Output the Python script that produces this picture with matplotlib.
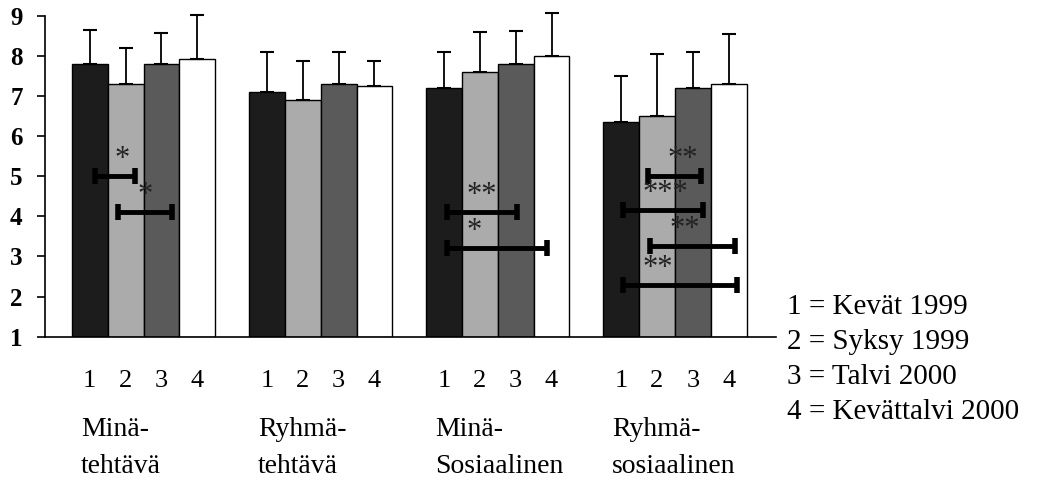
import matplotlib
matplotlib.use("Agg")
import matplotlib.pyplot as plt
import numpy as np

# mean scores per group (1 = Kevät 1999 ... 4 = Kevättalvi 2000)
groups = [("Minä-", "tehtävä"), ("Ryhmä-", "tehtävä"),
          ("Minä-", "Sosiaalinen"), ("Ryhmä-", "sosiaalinen")]
kevat99 = [7.8, 7.1, 7.2, 6.35]
syksy99 = [7.3, 6.9, 7.6, 6.5]
talvi00 = [7.8, 7.3, 7.8, 7.2]
kevattalvi00 = [7.93, 7.24, 8.0, 7.3]
# upper end of the error bars
err_top = [[8.65, 8.1, 8.1, 7.5],
           [8.2, 7.88, 8.6, 8.05],
           [8.58, 8.1, 8.63, 8.1],
           [9.03, 7.87, 9.08, 8.55]]
legend_lines = ["1 = Kevät 1999", "2 = Syksy 1999", "3 = Talvi 2000", "4 = Kevättalvi 2000"]

# significance brackets: (group, from, to, level, stars) in bar units inside a group
brackets = [(0, 0.64, 1.75, 5.0, "*"),
            (0, 1.28, 2.8, 4.1, "*"),
            (2, 0.58, 2.53, 4.1, "**"),
            (2, 0.58, 3.36, 3.2, "*"),
            (3, 1.25, 2.72, 5.0, "**"),
            (3, 0.56, 2.78, 4.15, "***"),
            (3, 1.31, 3.67, 3.25, "**"),
            (3, 0.56, 3.72, 2.3, "**")]

serif = ["Liberation Serif", "DejaVu Serif"]
fig = plt.figure(figsize=(10.63, 4.83), dpi=100)
ax = fig.add_axes([0.0423, 0.303, 0.688, 0.664])

step = 4.94
series = [kevat99, syksy99, talvi00, kevattalvi00]
colors = ["#1c1c1c", "#ababab", "#5a5a5a", "white"]
gx = np.arange(len(groups)) * step
for i, vals in enumerate(series):
    x = gx + i + 0.5
    vals = np.array(vals)
    ax.bar(x, vals - 1, bottom=1, width=1.0, color=colors[i],
           edgecolor="black", linewidth=1.0, zorder=2)
    up = np.array(err_top[i]) - vals
    eb = ax.errorbar(x, vals, yerr=[np.zeros_like(up), up], fmt="none",
                     ecolor="black", elinewidth=1.3, capsize=5, capthick=1.5, zorder=3)
    for art in eb.lines[1] + eb.lines[2]:
        art.set_clip_on(False)

for g, a, b, lvl, s in brackets:
    x0, x1 = gx[g] + a, gx[g] + b
    ax.plot([x0, x1], [lvl, lvl], color="black", lw=3.5, zorder=4,
            solid_capstyle="butt")
    ax.plot([x0, x1], [lvl, lvl], ls="none", marker="|", ms=11, mew=4,
            color="black", zorder=4)
    ax.text(x0 + 0.55, lvl + 0.05, s, ha="left", va="bottom", fontsize=22,
            family=serif, color="#222222", zorder=4)

ax.set_xlim(-0.75, gx[-1] + 4.83)
ax.set_ylim(1, 9)
ax.set_yticks(range(1, 10))
ax.set_yticklabels([str(v) for v in range(1, 10)], fontsize=18,
                   fontweight="bold", family=serif)
ax.tick_params(axis="y", direction="out", length=6, width=1.2, pad=10)

centres = np.concatenate([gx + i + 0.5 for i in range(4)])
ax.set_xticks(np.sort(centres))
ax.set_xticklabels(["1", "2", "3", "4"] * len(groups), fontsize=19, family=serif)
ax.tick_params(axis="x", length=0, pad=24)

for s in ["top", "right"]:
    ax.spines[s].set_visible(False)
ax.spines["left"].set_linewidth(1.2)
ax.spines["bottom"].set_linewidth(1.2)

tr = ax.get_xaxis_transform()
for g, (l1, l2) in enumerate(groups):
    ax.text(gx[g] + 0.25, -0.31, l1, transform=tr, ha="left", va="baseline",
            fontsize=20, family=serif)
    ax.text(gx[g] + 0.25, -0.425, l2, transform=tr, ha="left", va="baseline",
            fontsize=20, family=serif)

for k, line in enumerate(legend_lines):
    fig.text(0.740, 1 - (307 + k * 35) / 483, line, ha="left", va="center",
             fontsize=21, family=serif)

fig.savefig("out.png", dpi=100)
